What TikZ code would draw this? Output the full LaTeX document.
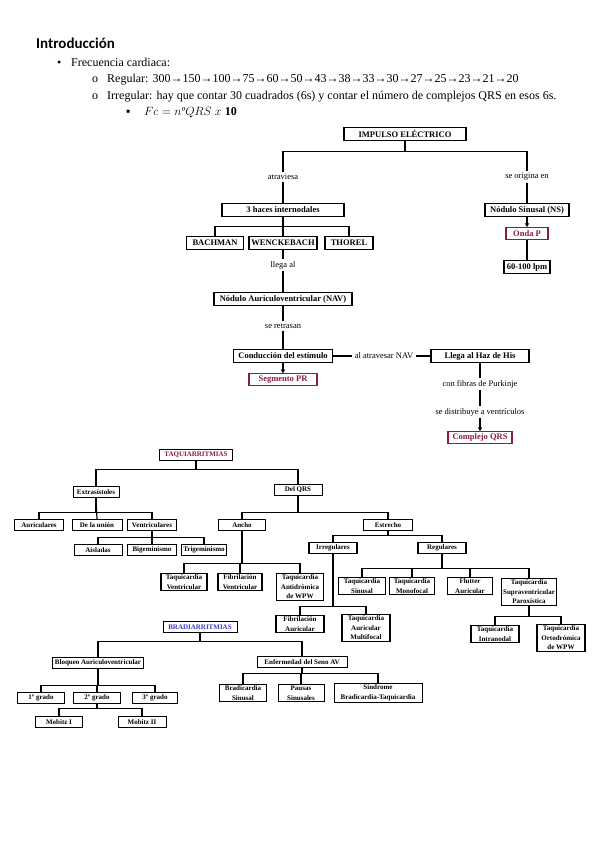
\documentclass[tikz,border=0pt]{standalone}
\usepackage{fontspec}
\setmainfont{Liberation Serif}
\newfontfamily\headfont{Carlito}
\usepackage{tikz}
\usetikzlibrary{positioning}
\usetikzlibrary{arrows.meta}
\definecolor{wine}{HTML}{8B1E3F}
\definecolor{bradiblue}{HTML}{3B3BD0}

\begin{document}
\begin{tikzpicture}[x=1pt,y=-1pt]
        \tikzstyle{txt}=[anchor=base west,inner sep=0pt,font=\fontsize{12}{14}\selectfont]
        \tikzstyle{topbox}=[draw,line width=1.1pt,inner sep=1.5pt,minimum height=13pt,
            font=\fontsize{8.5}{10}\selectfont\bfseries]
        \tikzstyle{fatbox}=[topbox,line width=1.6pt]
        \tikzstyle{redbox}=[topbox,draw=wine,text=wine,minimum height=12pt]
        \tikzstyle{lbl}=[inner xsep=3pt,inner ysep=2pt,font=\fontsize{8.5}{10}\selectfont]
        \tikzstyle{tbox}=[draw,line width=1pt,inner sep=1.5pt,minimum height=11pt,
            align=center,font=\fontsize{7}{9.5}\selectfont\bfseries]
        \tikzstyle{slim}=[tbox,line width=.7pt]
        \tikzstyle{fat}=[tbox,line width=1.5pt]
        \tikzstyle{wire}=[line width=1.2pt]
        \tikzstyle{arrowlink}=[line width=1.2pt,-{Stealth[length=4pt,width=4.5pt]}]

        \useasboundingbox[fill=white] (0,0) rectangle (599,848);

        \node[txt,font=\headfont\bfseries\fontsize{15}{18}\selectfont] (intro) at (36,49) {Introducción};
        \node[txt] (dot1) at (57,67) {•};
        \node[txt] (frec) at (71,67) {Frecuencia cardiaca:};
        \node[txt] (o1) at (92,83) {o};
        \node[txt] (reg) at (107,83) {Regular: 300→150→100→75→60→50→43→38→33→30→27→25→23→21→20};
        \node[txt] (o2) at (92,100) {o};
        \node[txt] (irreg) at (107,100) {Irregular: hay que contar 30 cuadrados (6s) y contar el número de complejos QRS en esos 6s.};
        \node[txt] (sq) at (126,116) {▪};
        \node[txt] (fc) at (144,116) {$Fc = n$\textit{º}$QRS\;x\;\mathbf{10}$};

        \node[topbox,minimum width=122pt] (impulso) at (405,134) {IMPULSO ELÉCTRICO};
        \node[lbl] (atrav) at (283,177) {atraviesa};
        \node[lbl] (origina) at (527,177) {se origina en};
        \node[topbox,minimum width=122pt] (haces) at (283,210) {3 haces internodales};
        \node[fatbox,minimum width=57pt] (bach) at (215,243) {BACHMAN};
        \node[fatbox,minimum width=68pt] (wenck) at (283,243) {WENCKEBACH};
        \node[topbox,minimum width=48pt] (thorel) at (349,243) {THOREL};
        \node[lbl] (llega) at (283,265) {llega al};
        \node[topbox,minimum width=138pt] (nav) at (283,299) {Nódulo Auriculoventricular (NAV)};
        \node[lbl] (retrasan) at (283,326) {se retrasan};
        \node[fatbox,minimum width=99pt] (conduc) at (283,356) {Conducción del estímulo};
        \node[redbox,minimum width=68pt,below=10pt of conduc] (pr) {Segmento PR};
        \node[lbl] (atravesar) at (384,356) {al atravesar NAV};
        \node[fatbox,minimum width=98pt] (his) at (480,356) {Llega al Haz de His};
        \node[lbl] (purk) at (480,384) {con fibras de Purkinje};
        \node[lbl] (distrib) at (480,412) {se distribuye a ventrículos};
        \node[redbox,minimum width=64pt,below=13pt of distrib] (qrs) {Complejo QRS};
        \node[topbox,minimum width=84pt] (ns) at (527,210) {Nódulo Sinusal (NS)};
        \node[redbox,minimum width=42pt,below=10pt of ns] (ondap) {Onda P};
        \node[topbox,minimum width=46pt,below=20pt of ondap] (lpm) {60-100 lpm};

        \draw[wire] (impulso.south) -- ++(0,10.5) -| (atrav.north);
        \draw[wire] (impulso.south) -- ++(0,10.5) -| (origina.north);
        \draw[wire] (atrav.south) -- (haces.north);
        \draw[wire] (haces.south) -- ++(0,9.5) -| (bach.north);
        \draw[wire] (haces.south) -- (wenck.north);
        \draw[wire] (haces.south) -- ++(0,9.5) -| (thorel.north);
        \draw[wire] (wenck.south) -- (llega.north);
        \draw[wire] (llega.south) -- (nav.north);
        \draw[wire] (nav.south) -- (retrasan.north);
        \draw[wire] (retrasan.south) -- (conduc.north);
        \draw[arrowlink] (conduc.south) -- (pr.north);
        \draw[wire] (conduc.east) -- (atravesar.west);
        \draw[wire] (atravesar.east) -- (his.west);
        \draw[wire] (his.south) -- (purk.north);
        \draw[wire] (purk.south) -- (distrib.north);
        \draw[arrowlink] (distrib.south) -- (qrs.north);
        \draw[wire] (origina.south) -- (ns.north);
        \draw[arrowlink] (ns.south) -- (ondap.north);
        \draw[wire] (ondap.south) -- (lpm.north);

        \node[tbox,text=wine,minimum width=73pt] (taqui) at (196,455) {TAQUIARRITMIAS};
        \node[slim,minimum width=46pt] (extra) at (96,492) {Extrasístoles};
        \node[tbox,minimum width=48pt] (delqrs) at (298,490) {Del QRS};
        \node[fat,minimum width=49pt] (auric) at (39,525) {Auriculares};
        \node[slim,minimum width=50pt] (union) at (97,525) {De la unión};
        \node[fat,minimum width=49pt] (ventric) at (152,525) {Ventriculares};
        \node[slim,minimum width=48pt] (aisl) at (98,550) {Aisladas};
        \node[fat,minimum width=49pt] (bigem) at (152,550) {Bigeminismo};
        \node[slim,minimum width=40pt] (trigem) at (204,550) {Trigeminismo};
        \node[tbox,minimum width=47pt] (ancho) at (242,525) {Ancho};
        \node[tbox,minimum width=49pt] (estrecho) at (388,525) {Estrecho};
        \node[fat,minimum width=48pt] (irregs) at (333,548) {Irregulares};
        \node[fat,minimum width=48pt] (regs) at (442,548) {Regulares};
        \node[fat,minimum width=46pt] (tv) at (184,582) {Taquicardia\\Ventricular};
        \node[fat,minimum width=44pt] (fv) at (240,582) {Fibrilación\\Ventricular};
        \node[fat,minimum width=47pt] (tawpw) at (300,587) {Taquicardia\\Antidrómica\\de WPW};
        \node[fat,minimum width=48pt] (fa) at (300,624) {Fibrilación\\Auricular};
        \node[fat,minimum width=48pt] (tam) at (366,628) {Taquicardia\\Auricular\\Multifocal};
        \node[fat,minimum width=47pt] (ts) at (362,586) {Taquicardia\\Sinusal};
        \node[fat,minimum width=45pt] (tm) at (412,586) {Taquicardia\\Monofocal};
        \node[fat,minimum width=45pt] (flutter) at (470,586) {Flutter\\Auricular};
        \node[fat,minimum width=55pt] (tsp) at (529,592) {Taquicardia\\Supraventricular\\Paroxística};
        \node[fat,minimum width=48pt] (ti) at (495,634) {Taquicardia\\Intranodal};
        \node[fat,minimum width=48pt] (towpw) at (561,638) {Taquicardia\\Ortodrómica\\de WPW};

        \draw[wire] (taqui.south) -- ++(0,8.5) -| (extra.north);
        \draw[wire] (taqui.south) -- ++(0,8.5) -| (delqrs.north);
        \draw[wire] (extra.south) -- ++(0,14.5) -| (auric.north);
        \draw[wire] (extra.south) -- (union.north);
        \draw[wire] (extra.south) -- ++(0,14.5) -| (ventric.north);
        \draw[wire] (ventric.south) -- ++(0,6.5) -| (aisl.north);
        \draw[wire] (ventric.south) -- (bigem.north);
        \draw[wire] (ventric.south) -- ++(0,6.5) -| (trigem.north);
        \draw[wire] (delqrs.south) -- ++(0,16.5) -| (ancho.north);
        \draw[wire] (delqrs.south) -- ++(0,16.5) -| (estrecho.north);
        \draw[wire] (ancho.south) -- ++(0,32.5) -| (tv.north);
        \draw[wire] (ancho.south) -- ++(0,32.5) -| (fv.north);
        \draw[wire] (ancho.south) -- ++(0,32.5) -| (tawpw.north);
        \draw[wire] (estrecho.south) -- ++(0,4.5) -| (irregs.north);
        \draw[wire] (estrecho.south) -- ++(0,4.5) -| (regs.north);
        \draw[wire] (irregs.south) -- ++(0,52.5) -| (fa.north);
        \draw[wire] (irregs.south) -- ++(0,52.5) -| (tam.north);
        \draw[wire] (regs.south) -- ++(0,14.5) -| (ts.north);
        \draw[wire] (regs.south) -- ++(0,14.5) -| (tm.north);
        \draw[wire] (regs.south) -- ++(0,14.5) -| (flutter.north);
        \draw[wire] (regs.south) -- ++(0,14.5) -| (tsp.north);
        \draw[wire] (tsp.south) -- ++(0,10) -| (ti.north);
        \draw[wire] (tsp.south) -- ++(0,10) -| (towpw.north);

        \node[tbox,text=bradiblue,minimum width=74pt] (bradi) at (200,627) {BRADIARRITMIAS};
        \node[tbox,minimum width=91pt] (bloqueo) at (98,663) {Bloqueo Auriculoventricular};
        \node[tbox,minimum width=90pt] (enfer) at (302,662) {Enfermedad del Seno AV};
        \node[tbox,minimum width=47pt] (grado1) at (41,698) {1º grado};
        \node[tbox,minimum width=47pt] (grado2) at (97,698) {2º grado};
        \node[tbox,minimum width=45pt] (grado3) at (155,698) {3º grado};
        \node[tbox,minimum width=47pt] (mobitz1) at (59,722) {Mobitz I};
        \node[tbox,minimum width=48pt] (mobitz2) at (142,722) {Mobitz II};
        \node[tbox,minimum width=47pt] (bs) at (243,693) {Bradicardia\\Sinusal};
        \node[tbox,minimum width=46pt] (ps) at (301,693) {Pausas\\Sinusales};
        \node[tbox,minimum width=88pt] (sbt) at (378,693) {Síndrome\\Bradicardia-Taquicardia};

        \draw[wire] (bradi.south) -- ++(0,8.5) -| (bloqueo.north);
        \draw[wire] (bradi.south) -- ++(0,8.5) -| (enfer.north);
        \draw[wire] (bloqueo.south) -- ++(0,16.5) -| (grado1.north);
        \draw[wire] (bloqueo.south) -- ++(0,16.5) -| (grado2.north);
        \draw[wire] (bloqueo.south) -- ++(0,16.5) -| (grado3.north);
        \draw[wire] (grado2.south) -- ++(0,4.5) -| (mobitz1.north);
        \draw[wire] (grado2.south) -- ++(0,4.5) -| (mobitz2.north);
        \draw[wire] (enfer.south) -- ++(0,5.5) -| (bs.north);
        \draw[wire] (enfer.south) -- ++(0,5.5) -| (ps.north);
        \draw[wire] (enfer.south) -- ++(0,5.5) -| (sbt.north);
\end{tikzpicture}
\end{document}
